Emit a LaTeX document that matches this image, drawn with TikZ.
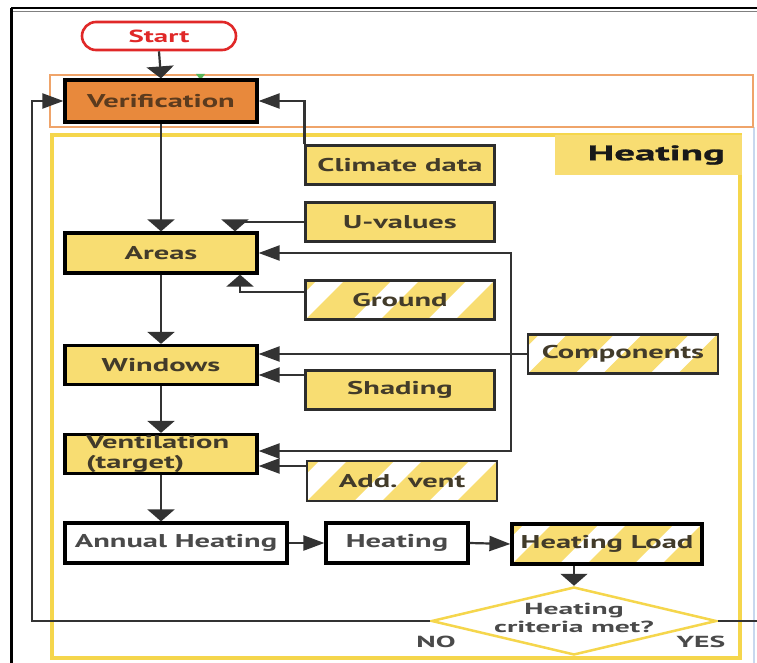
\documentclass[tikz,border=0pt]{standalone}
\usepackage{fontspec}
\setmainfont{PT Sans}[FakeStretch=1.65]
\newfontfamily\lblfont{PT Sans}[FakeStretch=1.95,FakeBold=1.2]
\newfontfamily\widefont{PT Sans}[FakeStretch=1.85]
\usetikzlibrary{shapes.geometric,arrows.meta}
\definecolor{yel}{HTML}{F8DD72}
\definecolor{orfill}{HTML}{E8893C}
\definecolor{frameyel}{HTML}{F5D64C}
\definecolor{frameor}{HTML}{EFA46A}
\definecolor{txt}{HTML}{423B2A}
\definecolor{vtxt}{HTML}{5B3B1E}
\definecolor{gtxt}{HTML}{4A4A4A}
\definecolor{lin}{HTML}{333333}
\definecolor{startred}{HTML}{E02828}
\definecolor{bluel}{HTML}{C8D8EE}
\begin{document}
\begin{tikzpicture}[x=1pt,y=-1pt,
  mainbox/.style={draw=black,line width=3.2pt,fill=yel,text=txt,inner sep=0pt,
    font=\fontsize{18.5}{20}\selectfont\bfseries,align=center},
  subbox/.style={draw=gray!35!black,line width=2.2pt,fill=yel,text=txt,inner sep=0pt,
    minimum width=189pt,minimum height=39pt,font=\fontsize{18.5}{20}\selectfont\bfseries},
  striped/.style={fill=white,path picture={
     \foreach \k in {-3,...,3}{
       \fill[yel] ([xshift=\k*75pt]path picture bounding box.south west) -- ++(47pt,0pt)
         -- ++(42pt,42pt) -- ++(-47pt,0pt) -- cycle;}}},
  conn/.style={draw=lin,line width=2.2pt},
  varr/.style={conn,-{Triangle[width=27pt,length=12pt]}},
  harr/.style={conn,-{Triangle[width=15pt,length=21pt]}},
  lab/.style={text=gtxt,font=\widefont\fontsize{16}{18}\selectfont\bfseries}
]
\useasboundingbox (0,0) rectangle (757,663);
\fill[white] (0,0) rectangle (757,663);
% outer frame
\draw[black,line width=2pt] (11,8.5) -- (757,8.5);
\draw[gray,line width=1.2pt] (13,11.5) -- (757,11.5);
\draw[black,line width=2.5pt] (11.5,8) -- (11.5,663);
\draw[bluel,line width=1.2pt] (754,127) -- (754,663);
% region frames
\draw[frameor,line width=2.5pt] (50,75) rectangle (753,127);
\draw[frameyel,line width=4pt] (52,135) rectangle (740,658);
\node[fill=yel,minimum width=187pt,minimum height=40pt,inner sep=0pt,text width=153pt,align=right,
  text=black!90,font=\lblfont\fontsize{21}{22}\selectfont\bfseries] (heatlbl) at (648.5,155) {Heating};
\fill[green!55!black!65] (196,74) -- (205,74) -- (200.5,80) -- cycle;

% nodes
\node[draw=startred,line width=2.6pt,rounded corners=14pt,fill=white,text=startred,
  minimum width=154pt,minimum height=28pt,inner sep=0pt,font=\fontsize{17.5}{18}\selectfont\bfseries] (start) at (159,36) {Start};
\node[mainbox,fill=orfill,text=vtxt,minimum width=192pt,minimum height=42pt] (verif) at (161,101) {Verification};
\node[subbox] (climate) at (400,165) {Climate data};
\node[subbox] (uval) at (400,222) {U-values};
\node[mainbox,minimum width=192pt,minimum height=40pt] (areas) at (161,253) {Areas};
\node[subbox,striped] (ground) at (400,300) {Ground};
\node[mainbox,minimum width=192pt,minimum height=39pt] (windows) at (161,365) {Windows};
\node[subbox] (shading) at (400,390) {Shading};
\node[subbox,striped,minimum width=190pt] (comp) at (623,354) {Components};
\node[mainbox,minimum width=192pt,minimum height=39pt,text width=150pt,align=left] (vent) at (161,454) {Ventilation\\(target)};
\node[subbox,striped,minimum width=190pt,minimum height=40pt] (addvent) at (402,481) {Add. vent};
\node[mainbox,fill=white,text=gtxt,minimum width=222pt,minimum height=40pt] (annual) at (176,543) {Annual Heating};
\node[mainbox,fill=white,text=gtxt,minimum width=142pt,minimum height=40pt] (heat) at (397,543) {Heating};
\node[mainbox,striped,minimum width=190pt,minimum height=40pt] (hload) at (607,544) {Heating Load};
\node[diamond,draw=frameyel,line width=2.5pt,fill=white,minimum width=285pt,minimum height=68pt,
  inner sep=0pt] (crit) at (574,621) {};
\node[lab,align=center,inner sep=0pt] (crittext) at ([yshift=3pt]crit.center) {Heating\\criteria met?};
\node[lab] (no) at (436,642) {NO};
\node[lab] (yes) at (701,642) {YES};

% connectors
\draw[varr] (start.south) -- (verif.north);
\draw[varr] (verif.south) -- (areas.north);
\draw[varr] (areas.south) -- (windows.north);
\draw[varr] (windows.south) -- (vent.north);
\draw[varr] (vent.south) -- (vent.south |- annual.north);
\draw[harr] (annual.east) -- (heat.west);
\draw[harr] (heat.east) -- (hload.west);
\draw[varr] (crit.north |- hload.south) -- (crit.north);
\draw[harr] (climate.north west) |- (verif.east);
\draw[varr] (uval.west) -| ([xshift=74pt]areas.north);
\draw[varr] ([yshift=8pt]ground.west) -| ([xshift=79pt]areas.south);
\coordinate (cj) at (511,354);
\draw[harr] (comp.west) -- (comp.west -| windows.east);
\draw[harr] (cj) |- (areas.east);
\draw[harr] (cj) |- ([yshift=3pt]vent.east);
\coordinate (sh) at ([yshift=15pt]shading.west);
\draw[harr] (sh) -- (sh -| windows.east);
\coordinate (av) at ([yshift=15pt]addvent.west);
\draw[harr] (av) -- (av -| vent.east);
\coordinate (fb) at (32,621);
\draw[harr] (crit.west) -- (fb) |- (verif.west);
\coordinate (yesend) at (757,621);
\draw[conn,line width=1.8pt] (crit.east) -- (yesend);
\end{tikzpicture}
\end{document}
